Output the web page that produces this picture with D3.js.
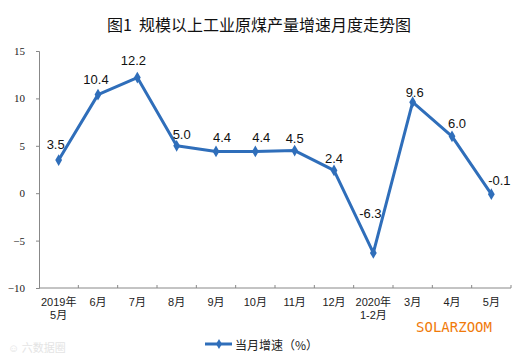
<!DOCTYPE html>
<html>
<head>
<meta charset="utf-8">
<script src="https://cdn.jsdelivr.net/npm/d3@7"></script>
<style>
  body { margin: 0; background: #fff; }
  svg { display: block; }
</style>
</head>
<body>
<div id="chart"></div>
<script>
// chart data
var months = ['2019年\n5月', '6月', '7月', '8月', '9月', '10月', '11月', '12月', '2020年\n1-2月', '3月', '4月', '5月'];
var growth = [3.5, 10.4, 12.2, 5.0, 4.4, 4.4, 4.5, 2.4, -6.3, 9.6, 6.0, -0.1];
var y_ticks = [-10, -5, 0, 5, 10, 15];

var chart_width = 515;
var chart_height = 362;
var line_color = '#2f6eba';
var cjk = '"Noto Sans CJK SC", "Noto Sans", sans-serif';

// label nudges (dx, dy) so they sit like the original
var label_shift = [
    [-3, -16], [-2, -15], [-4, -17], [5, -11], [6, -14], [6, -14],
    [0, -12], [0, -12], [-3, -39], [2, -10], [5, -13], [8, -14]
];

var svg = d3.select('#chart')
            .append('svg')
            .attr('width', chart_width)
            .attr('height', chart_height);

// title
svg.append('text')
    .attr('x', 259)
    .attr('y', 31)
    .attr('text-anchor', 'middle')
    .style('font-family', cjk)
    .style('font-size', '16px')
    .style('white-space', 'pre')
    .style('fill', '#111')
    .text('图1  规模以上工业原煤产量增速月度走势图');

var x_scale = d3.scaleBand()
                .domain(months)
                .range([39, 511]);

var y_scale = d3.scaleLinear()
                .domain([-10, 15])
                .range([288, 51]);

// y axis
var y_axis = d3.axisLeft(y_scale)
               .tickValues(y_ticks)
               .tickSize(3)
               .tickPadding(11);

var gy = svg.append('g')
    .attr('transform', 'translate(39,0)')
    .call(y_axis);
gy.select('.domain').attr('stroke', '#888');
gy.selectAll('.tick line').attr('stroke', '#888');
gy.selectAll('.tick text')
    .style('font-family', '"Liberation Serif", serif')
    .style('font-size', '11px')
    .style('fill', '#222');

// x axis, ticks at band edges pointing up
var gx = svg.append('g')
    .attr('transform', 'translate(0,288)');
gx.append('line')
    .attr('x1', 39).attr('x2', 511)
    .attr('stroke', '#888');
gx.selectAll('.edge')
    .data(months)
    .enter()
    .append('line')
    .attr('class', 'edge')
    .attr('x1', (d) => { return x_scale(d) + x_scale.bandwidth(); })
    .attr('x2', (d) => { return x_scale(d) + x_scale.bandwidth(); })
    .attr('y1', 0)
    .attr('y2', -3)
    .attr('stroke', '#888');

// one text per label line
var x_lines = [];
months.forEach((m) => {
    m.split('\n').forEach((part, i) => {
        x_lines.push({ month: m, part: part, row: i });
    });
});

gx.selectAll('.xlab')
    .data(x_lines)
    .enter()
    .append('text')
    .attr('class', 'xlab')
    .attr('text-anchor', 'middle')
    .attr('x', (d) => { return x_scale(d.month) + x_scale.bandwidth() / 2; })
    .attr('y', (d) => { return 18 + d.row * 13; })
    .style('font-family', '"Liberation Sans", "Noto Sans CJK SC", sans-serif')
    .style('font-size', '11px')
    .style('fill', '#222')
    .text((d) => { return d.part; });

// line
var line = d3.line()
    .x((d, i) => { return x_scale(months[i]) + x_scale.bandwidth() / 2; })
    .y((d) => { return y_scale(d); });

svg.append('path')
    .datum(growth)
    .attr('d', line)
    .attr('fill', 'none')
    .attr('stroke', line_color)
    .attr('stroke-width', 3)
    .attr('stroke-linejoin', 'round');

// diamond markers
var diamond = d3.symbol().type(d3.symbolDiamond).size(40);
svg.selectAll('.marker')
    .data(growth)
    .enter()
    .append('path')
    .attr('class', 'marker')
    .attr('d', diamond)
    .attr('transform', (d, i) => {
        return 'translate(' + (x_scale(months[i]) + x_scale.bandwidth() / 2) + ',' + y_scale(d) + ')';
    })
    .attr('fill', line_color);

// value labels
svg.selectAll('.val')
    .data(growth)
    .enter()
    .append('text')
    .attr('class', 'val')
    .attr('text-anchor', 'middle')
    .attr('dominant-baseline', 'central')
    .attr('x', (d, i) => { return x_scale(months[i]) + x_scale.bandwidth() / 2 + label_shift[i][0]; })
    .attr('y', (d, i) => { return y_scale(d) + label_shift[i][1]; })
    .style('font-family', '"Liberation Sans", Arial, sans-serif')
    .style('font-size', '13px')
    .style('fill', '#111')
    .text((d) => { return d.toFixed(1); });

// legend
var legend = svg.append('g').attr('transform', 'translate(205,344)');
legend.append('line')
    .attr('x1', 0).attr('x2', 27)
    .attr('stroke', line_color)
    .attr('stroke-width', 3);
legend.append('path')
    .attr('d', d3.symbol().type(d3.symbolDiamond).size(30))
    .attr('transform', 'translate(14,0)')
    .attr('fill', line_color);
legend.append('text')
    .attr('x', 30)
    .attr('y', 0)
    .attr('dominant-baseline', 'central')
    .style('font-family', cjk)
    .style('font-size', '12px')
    .style('fill', '#222')
    .text('当月增速（%）');

// watermarks
svg.append('text')
    .attr('x', 454)
    .attr('y', 332)
    .attr('text-anchor', 'middle')
    .style('font-family', '"DejaVu Sans Mono", monospace')
    .style('font-size', '14px')
    .style('fill', '#f07a0a')
    .text('SOLARZOOM');

svg.append('text')
    .attr('x', 8)
    .attr('y', 352)
    .style('font-family', cjk)
    .style('font-size', '11px')
    .style('fill', '#e4e4e4')
    .text('☺ 六数据圈');
</script>
</body>
</html>
